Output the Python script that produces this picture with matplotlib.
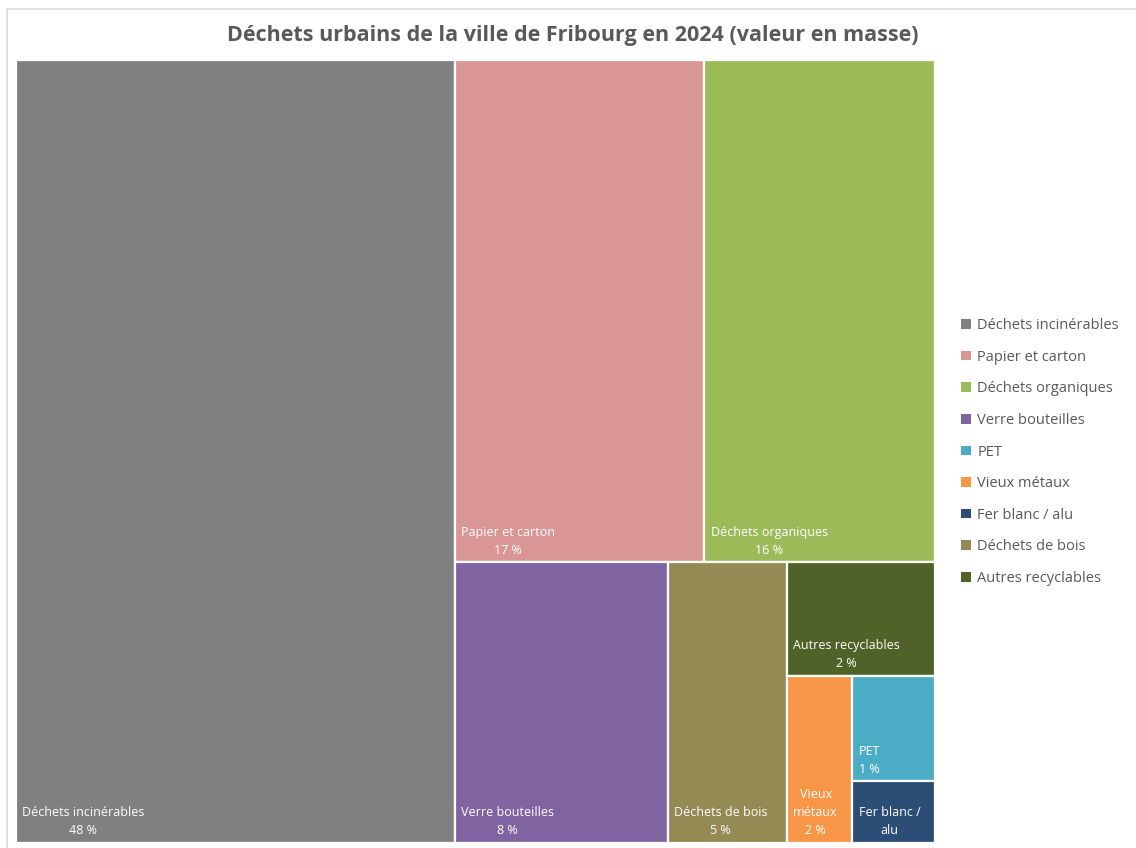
import matplotlib.pyplot as plt
from matplotlib.patches import Rectangle, Patch
from matplotlib import font_manager

# Données (part en masse, %)
categories = ['Déchets incinérables', 'Papier et carton', 'Déchets organiques',
              'Verre bouteilles', 'PET', 'Vieux métaux', 'Fer blanc / alu',
              'Déchets de bois', 'Autres recyclables']
valeurs = [47.2, 17.2, 15.9, 8.2, 1.2, 1.5, 0.7, 4.6, 2.3]
couleurs = ['#808080', '#d99694', '#9bbb59', '#8064a2', '#4bacc6',
            '#f79646', '#2c4d75', '#948a54', '#4f6228']

# libellés affichés dans les cases (coupés comme dans l'original)
libelles = {
    'Vieux métaux': 'Vieux\nmétaux',
    'Fer blanc / alu': 'Fer blanc /\nalu',
}
sans_pct = ['Fer blanc / alu']

noms = [f.name for f in font_manager.fontManager.ttflist]
police_etroite = 'Liberation Sans Narrow' if 'Liberation Sans Narrow' in noms else 'Open Sans'

# structure du treemap (découpage façon Excel), les tailles viennent des valeurs
idx = {c: i for i, c in enumerate(categories)}
arbre = ('h', [idx['Déchets incinérables'],
               ('v', [('h', [idx['Papier et carton'], idx['Déchets organiques']]),
                      ('h', [idx['Verre bouteilles'], idx['Déchets de bois'],
                             ('v', [idx['Autres recyclables'],
                                    ('h', [idx['Vieux métaux'],
                                           ('v', [idx['PET'], idx['Fer blanc / alu']])])])])])])


def total(n):
    if isinstance(n, int):
        return valeurs[n]
    return sum(total(c) for c in n[1])


def disposer(n, x, y, w, h, out):
    # y = haut de la case (axe y inversé)
    if isinstance(n, int):
        out[n] = (x, y, w, h)
        return
    sens, enfants = n
    s = total(n)
    pos = 0.0
    for c in enfants:
        f = total(c) / s
        if sens == 'h':
            disposer(c, x + pos * w, y, f * w, h, out)
        else:
            disposer(c, x, y + pos * h, w, f * h, out)
        pos += f


rects = {}
disposer(arbre, 0.0, 0.0, 1.0, 1.0, rects)
somme = sum(valeurs)

W, H = 1136, 848
fig = plt.figure(figsize=(W / 100, H / 100), dpi=100)
fig.patches.append(Rectangle((7 / W, -0.01), 1.1, 1 - 9 / H + 0.01, transform=fig.transFigure,
                             facecolor='none', edgecolor='#d9d9d9', linewidth=1.2, zorder=-1))

ax = fig.add_axes([16 / W, 5 / H, 919 / W, 783 / H])
ax.set_xlim(0, 1)
ax.set_ylim(1, 0)
ax.axis('off')

for i, (x, y, w, h) in rects.items():
    ax.add_patch(Rectangle((x, y), w, h, facecolor=couleurs[i], edgecolor='white', linewidth=1.6))
    nom = categories[i]
    txt = libelles.get(nom, nom)
    if nom not in sans_pct:
        txt += f'\n{round(valeurs[i] / somme * 100):.0f} %'
    ax.annotate(txt, xy=(x, y + h), xytext=(4.5, 4), textcoords='offset points',
                ha='left', va='bottom', multialignment='center', color='white',
                fontsize=9, family=[police_etroite, 'DejaVu Sans'], linespacing=1.5)

fig.text(573 / W, 1 - 36 / H, 'Déchets urbains de la ville de Fribourg en 2024 (valeur en masse)',
         ha='center', va='center', fontsize=15.5, fontweight='bold', color='#595959',
         family=[police_etroite, 'Open Sans'])

poignees = [Patch(facecolor=c, edgecolor='none', label=l) for c, l in zip(couleurs, categories)]
fig.legend(handles=poignees, loc='center left', bbox_to_anchor=(948 / W, 1 - 452 / H),
           frameon=False, handlelength=0.65, handleheight=0.65, handletextpad=0.45,
           labelspacing=1.14, prop={'family': 'Open Sans', 'size': 10.5}, labelcolor='#595959')

fig.savefig('out.png', dpi=100)
